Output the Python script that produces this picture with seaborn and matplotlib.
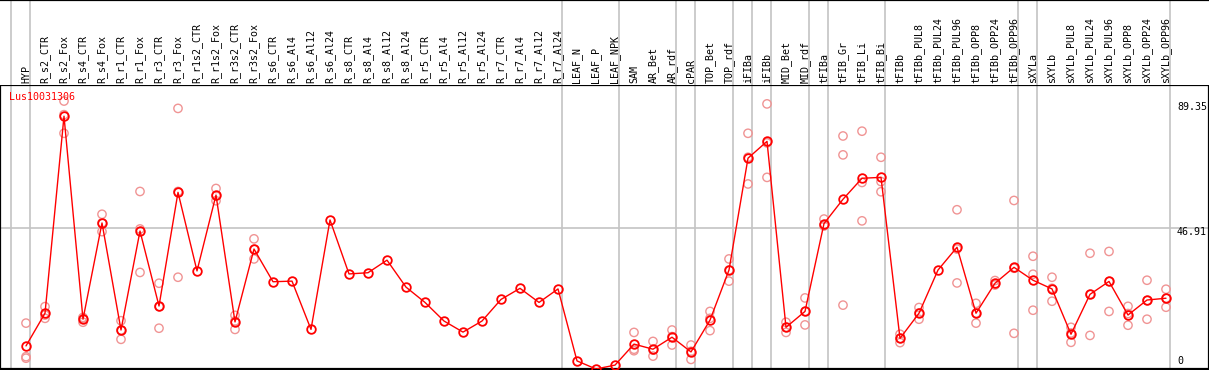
import numpy as np
import pandas as pd
import matplotlib
matplotlib.use('Agg')
from matplotlib import pyplot as plt
import matplotlib.transforms as mtransforms
import seaborn as sns

gene = 'Lus10031306'

categories = ['HYP', 'R_s2_CTR', 'R_s2_Fox', 'R_s4_CTR', 'R_s4_Fox', 'R_r1_CTR', 'R_r1_Fox',
              'R_r3_CTR', 'R_r3_Fox', 'R_r1s2_CTR', 'R_r1s2_Fox', 'R_r3s2_CTR', 'R_r3s2_Fox',
              'R_s6_CTR', 'R_s6_Al4', 'R_s6_Al12', 'R_s6_Al24', 'R_s8_CTR', 'R_s8_Al4',
              'R_s8_Al12', 'R_s8_Al24', 'R_r5_CTR', 'R_r5_Al4', 'R_r5_Al12', 'R_r5_Al24',
              'R_r7_CTR', 'R_r7_Al4', 'R_r7_Al12', 'R_r7_Al24', 'LEAF_N', 'LEAF_P', 'LEAF_NPK',
              'SAM', 'AR_Bet', 'AR_rdf', 'cPAR', 'TOP_Bet', 'TOP_rdf', 'iFIBa', 'iFIBb',
              'MID_Bet', 'MID_rdf', 'tFIBa', 'tFIB_Gr', 'tFIB_Li', 'tFIB_Bi', 'tFIBb',
              'tFIBb_PUL8', 'tFIBb_PUL24', 'tFIBb_PUL96', 'tFIBb_OPP8', 'tFIBb_OPP24',
              'tFIBb_OPP96', 'sXYLa', 'sXYLb', 'sXYLb_PUL8', 'sXYLb_PUL24', 'sXYLb_PUL96',
              'sXYLb_OPP8', 'sXYLb_OPP24', 'sXYLb_OPP96']

means = [7.7, 18.6, 84.3, 16.6, 48.7, 13.0, 46.0, 21.0, 58.9, 32.7, 58.0, 15.7, 40.0,
         29.1, 29.3, 13.2, 49.7, 31.7, 32.1, 36.3, 27.3, 22.2, 16.0, 12.3, 16.0,
         23.2, 26.9, 22.2, 26.7, 2.7, 0.0, 1.3,
         8.3, 6.6, 10.6, 5.7, 16.3, 33.0, 70.3, 75.9, 13.9, 19.2, 48.5, 56.6, 63.6, 63.9,
         10.2, 18.6, 33.0, 40.6, 18.6, 28.6, 33.9, 29.6, 26.7, 11.6, 24.9, 29.2, 18.0, 23.0, 23.6]

nan = np.nan
rep_a = [15.3, 20.8, 89.35, 17.2, 51.6, 16.1, 59.2, 28.6, 86.9, nan, 60.2, 17.9, 43.4,
         nan, nan, nan, nan, nan, nan, nan, nan, nan, nan, nan, nan,
         nan, nan, nan, nan, nan, nan, nan,
         12.2, 9.2, 13.0, 8.0, 19.2, 36.7, 78.6, 88.4, 15.6, 23.7, 50.0, 77.7, 79.3, 70.6,
         11.6, 20.5, nan, 53.1, 21.9, 29.5, 56.2, 37.6, 30.6, 13.9, 38.6, 39.2, 20.9, 29.6, 26.6]
rep_b = [3.6, 16.9, 78.6, 15.6, 45.8, 9.9, 32.2, 13.6, 30.6, nan, 56.1, 13.2, 36.7,
         nan, nan, nan, nan, nan, nan, nan, nan, nan, nan, nan, nan,
         nan, nan, nan, nan, nan, nan, nan,
         6.1, 4.3, 8.0, 3.2, 12.8, 29.3, 61.7, 63.9, 12.2, 14.7, 47.8, 71.4, 62.2, 62.5,
         8.8, 16.6, nan, 28.7, 15.3, 28.0, 11.9, 31.6, 22.6, 8.9, 11.2, 19.2, 14.6, 16.6, 20.6]
rep_c = [4.1, 18.0, 84.8, 16.9, 48.7, 13.0, 46.7, 20.8, 59.2, nan, 57.7, 16.0, 39.9,
         nan, nan, nan, nan, nan, nan, nan, nan, nan, nan, nan, nan,
         nan, nan, nan, nan, nan, nan, nan,
         6.6, 6.3, 10.8, 5.9, 16.9, 33.0, 70.6, 75.4, 13.9, 19.2, 47.7, 21.3, 49.4, 59.1,
         10.2, 18.7, nan, 40.0, 18.6, 28.3, 33.6, 19.6, 26.9, 12.0, 24.9, 29.2, 18.5, 22.8, 23.6]

# last sample index of each tissue group (-1 = left border)
group_ends = [-1, 0, 28, 31, 34, 35, 37, 38, 39, 41, 42, 45, 52, 53, 60]
axis_values = [0, 46.91, 89.35]

W, H = 1209, 370
fig = plt.figure(figsize=(W / 100, H / 100), dpi=100)
sns.set_style('white')

pos = np.arange(len(categories))
df_mean = pd.DataFrame({'pos': pos, 'value': means})
df_rep = pd.DataFrame({'pos': np.tile(pos, 3), 'value': rep_a + rep_b + rep_c}).dropna()

plot_top, plot_bot = 85, 369
ax = fig.add_axes([0, (H - plot_bot) / H, 1, (plot_bot - plot_top) / H])
hx = fig.add_axes([0, (H - plot_top) / H, 1, plot_top / H], sharex=ax)

xlim = ((0 - 26) / 19, (W - 26) / 19)
grid_c = '#c4c4c4'
red = '#ff0000'
pink = '#f09494'
mono = 'DejaVu Sans Mono'

for e in group_ends:
    ax.axvline(e + 0.2, color=grid_c, lw=1.2, zorder=0)
    hx.axvline(e + 0.2, color=grid_c, lw=1.2, zorder=0)
ax.axhline(axis_values[1], color=grid_c, lw=1.2, zorder=0)

sns.scatterplot(data=df_rep, x='pos', y='value', ax=ax, marker='o', s=36,
                facecolor='none', edgecolor=pink, linewidth=1.0, zorder=2, legend=False)
sns.lineplot(data=df_mean, x='pos', y='value', ax=ax, color=red, lw=1.0, sort=False,
             marker='o', markersize=6.2, markerfacecolor='none', markeredgecolor=red,
             markeredgewidth=1.3, zorder=3, legend=False)

ax.set_xlim(*xlim)
ax.set_ylim(0, 94.7)
ax.set_xticks([])
ax.set_yticks([])
ax.set_xlabel('')
ax.set_ylabel('')
for s in ax.spines.values():
    s.set_color('black')
    s.set_linewidth(1.6)

ax.text(0.0075, 0.958, gene, transform=ax.transAxes, color=red, family=mono,
        fontsize=7.2, ha='left', va='center')

# value labels sit left-aligned just right of the last group line
trans = mtransforms.blended_transform_factory(ax.transAxes, ax.transData)
offsets = [7.5, -3.5, -6.0]
for v, off in zip(axis_values, offsets):
    lab = '0' if v == 0 else f'{v:.2f}'
    ax.annotate(lab, xy=(1177 / W, v), xycoords=trans, xytext=(0, off), textcoords='offset pixels',
                ha='left', va='center', family=mono, fontsize=7.2, color='black')

hx.set_ylim(0, 1)
hx.set_yticks([])
hx.tick_params(axis='x', bottom=False, labelbottom=False)
for side in ['left', 'right', 'bottom']:
    hx.spines[side].set_visible(False)
hx.spines['top'].set_color('black')
hx.spines['top'].set_linewidth(1.6)
for i, name in enumerate(categories):
    hx.text(i, 0.02, name, rotation=90, ha='center', va='bottom', family=mono,
            fontsize=7.2, color='black')

fig.savefig('out.png', dpi=100)
